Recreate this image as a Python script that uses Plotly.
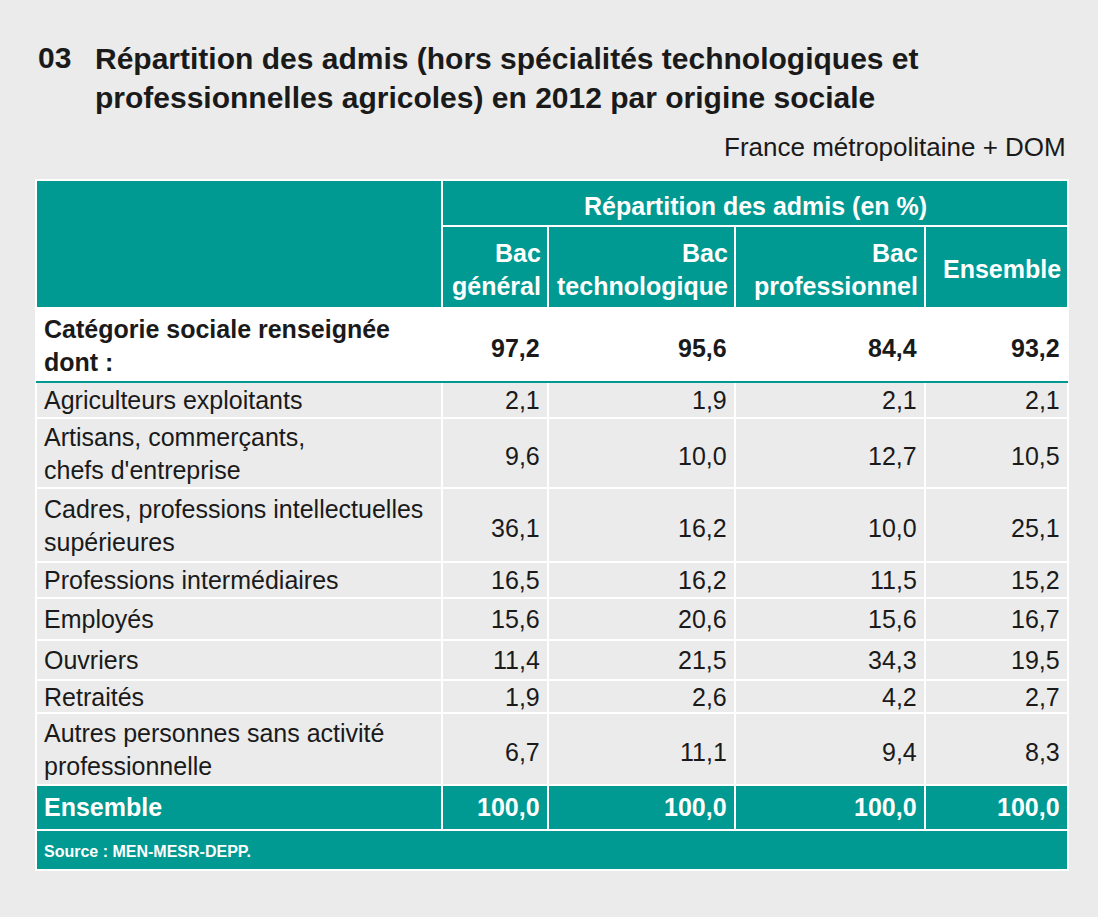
import plotly.graph_objects as go

# Data
columns = ['Bac<br>général', 'Bac<br>technologique', 'Bac<br>professionnel', 'Ensemble']
categories = ['Agriculteurs exploitants', 'Artisans, commerçants,<br>chefs d\'entreprise',
              'Cadres, professions intellectuelles<br>supérieures', 'Professions intermédiaires',
              'Employés', 'Ouvriers', 'Retraités',
              'Autres personnes sans activité<br>professionnelle']
renseignee = ['97,2', '95,6', '84,4', '93,2']
bac_general = ['2,1', '9,6', '36,1', '16,5', '15,6', '11,4', '1,9', '6,7']
bac_techno = ['1,9', '10,0', '16,2', '16,2', '20,6', '21,5', '2,6', '11,1']
bac_pro = ['2,1', '12,7', '10,0', '11,5', '15,6', '34,3', '4,2', '9,4']
ensemble = ['2,1', '10,5', '25,1', '15,2', '16,7', '19,5', '2,7', '8,3']
total = ['100,0', '100,0', '100,0', '100,0']

teal = '#009a92'
bg = '#ebebeb'
font = 'Liberation Sans Narrow, Arial Narrow, Liberation Sans, sans-serif'

# layout geometry (pixels)
xs = [36, 442, 548, 735, 925, 1068]
row_edges = [382, 418, 488, 562, 598, 640, 680, 713, 785]

fig = go.Figure()
shapes = []
ann = []


def rect(x0, y0, x1, y1, fill, line='white', w=2):
    shapes.append(dict(type='rect', x0=x0, x1=x1, y0=y0, y1=y1, fillcolor=fill,
                       line=dict(color=line, width=w), layer='below'))


def text(x, y, s, size=25, color='#1a1a1a', bold=False, anchor='right'):
    if bold:
        s = '<b>' + s + '</b>'
    ann.append(dict(x=x, y=y, text=s, showarrow=False, xanchor=anchor, yanchor='middle',
                    align=anchor, font=dict(family=font, size=size, color=color)))


# header
rect(xs[0], 180, xs[1], 308, teal)
rect(xs[1], 180, xs[5], 226, teal)
text((xs[1] + xs[5]) / 2, 206, 'Répartition des admis (en %)', color='white', bold=True, anchor='center')
for i, c in enumerate(columns):
    rect(xs[i + 1], 226, xs[i + 2], 308, teal)
    text(xs[i + 2] - 5, 269, c, color='white', bold=True)

# Catégorie row
rect(xs[0], 308, xs[5], 382, 'white', line='white')
shapes.append(dict(type='line', x0=xs[0], x1=xs[5], y0=382, y1=382, line=dict(color=teal, width=2)))
text(xs[0] + 6, 345, 'Catégorie sociale renseignée<br>dont :', bold=True, anchor='left')
for i, v in enumerate(renseignee):
    text(xs[i + 2] - 6, 348, v, bold=True)

# data rows
series = [bac_general, bac_techno, bac_pro, ensemble]
for r, cat in enumerate(categories):
    y0, y1 = row_edges[r], row_edges[r + 1]
    ym = (y0 + y1) / 2
    for i in range(5):
        rect(xs[i], y0, xs[i + 1], y1, bg)
    text(xs[0] + 6, ym, cat, anchor='left')
    for i, s in enumerate(series):
        text(xs[i + 2] - 6, ym + (3 if '<br>' in cat else 0), s[r])

# Ensemble row
for i in range(5):
    rect(xs[i], 785, xs[i + 1], 830, teal)
text(xs[0] + 6, 807, 'Ensemble', color='white', bold=True, anchor='left')
for i, v in enumerate(total):
    text(xs[i + 2] - 6, 807, v, color='white', bold=True)

# Source row
rect(xs[0], 830, xs[5], 870, teal)
text(xs[0] + 6, 851, 'Source : MEN-MESR-DEPP.', size=16, color='white', bold=True, anchor='left')

# title
text(36, 57, '03', size=30, bold=True, anchor='left')
text(93, 78, 'Répartition des admis (hors spécialités technologiques et<br>professionnelles agricoles) en 2012 par origine sociale',
     size=30, bold=True, anchor='left')
text(1068, 147, 'France métropolitaine + DOM', size=26)

fig.add_trace(go.Scatter(x=[0, 1098], y=[0, 917], mode='markers', marker=dict(opacity=0),
                         hoverinfo='skip', showlegend=False))
fig.update_layout(width=1098, height=917, margin=dict(l=0, r=0, t=0, b=0),
                  paper_bgcolor=bg, plot_bgcolor=bg, shapes=shapes, annotations=ann,
                  xaxis=dict(range=[0, 1098], visible=False, fixedrange=True),
                  yaxis=dict(range=[917, 0], visible=False, fixedrange=True))
fig.write_html('out.html', config={'displayModeBar': False})

# drop the default page margin so the figure sits at the window's corner
with open('out.html', encoding='utf-8') as f:
    page = f.read()
page = page.replace('<head>', '<head><style>body{margin:0;background:#ebebeb}</style>', 1)
with open('out.html', 'w', encoding='utf-8') as f:
    f.write(page)
